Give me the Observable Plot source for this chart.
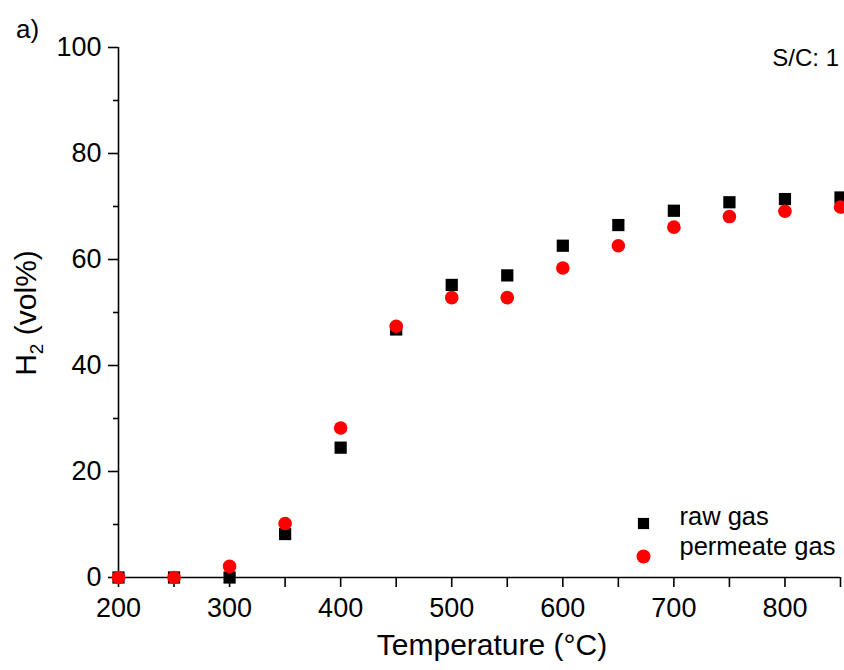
<!DOCTYPE html>
<html>
<head>
<meta charset="utf-8">
<script src="https://cdn.jsdelivr.net/npm/d3@7"></script>
<script src="https://cdn.jsdelivr.net/npm/@observablehq/plot@0.6"></script>
<style>
  html, body { margin: 0; padding: 0; background: #fff; }
  #chart { width: 844px; height: 670px; }
  svg { font-family: "Liberation Sans", Arial, sans-serif; }
</style>
</head>
<body>
<div id="chart"></div>
<script>
const temperatures = [200, 250, 300, 350, 400, 450, 500, 550, 600, 650, 700, 750, 800, 850];
const rawGas =       [0, 0, 0, 8.2, 24.5, 46.8, 55.2, 57.0, 62.6, 66.5, 69.2, 70.8, 71.4, 71.7];
const permeateGas =  [0, 0, 2.1, 10.2, 28.2, 47.4, 52.8, 52.8, 58.4, 62.6, 66.1, 68.1, 69.1, 69.9];

const xMajorTicks = [200, 300, 400, 500, 600, 700, 800];
const xMinorTicks = [250, 350, 450, 550, 650, 750, 850];
const yMajorTicks = [0, 20, 40, 60, 80, 100];
const yMinorTicks = [10, 30, 50, 70, 90];
const seriesNames = ["raw gas", "permeate gas"];

const rawData = temperatures.map((t, i) => ({t, v: rawGas[i]}));
const permData = temperatures.map((t, i) => ({t, v: permeateGas[i]}));

const font = "'Liberation Sans', Arial, sans-serif";

const svg = Plot.plot({
  width: 844,
  height: 670,
  marginLeft: 118,
  marginRight: 4,
  marginTop: 47,
  marginBottom: 93,
  style: {fontFamily: font, background: "white", overflow: "hidden"},
  x: {domain: [200, 850]},
  y: {domain: [0, 100]},
  marks: [
    Plot.axisX({ticks: xMajorTicks, tickSize: 10, tickPadding: 10, fontSize: 27, label: null, strokeWidth: 1.6, color: "black"}),
    Plot.axisX({ticks: xMinorTicks, tickSize: 10, tickFormat: () => "", label: null, strokeWidth: 1.6}),
    Plot.axisY({ticks: yMajorTicks, tickSize: 10, tickPadding: 7, fontSize: 27, label: null, strokeWidth: 1.6, color: "black"}),
    Plot.axisY({ticks: yMinorTicks, tickSize: 5, tickFormat: () => "", label: null, strokeWidth: 1.6}),
    Plot.ruleX([200], {stroke: "black", strokeWidth: 1.6}),
    Plot.ruleY([0], {stroke: "black", strokeWidth: 1.6}),
    Plot.dot(rawData, {x: "t", y: "v", symbol: "square", r: 6.9, fill: "black", stroke: "none"}),
    Plot.dot(permData, {x: "t", y: "v", symbol: "circle", r: 6.8, fill: "#ff0000", stroke: "none"}),
    // legend
    Plot.dot([seriesNames[0]], {frameAnchor: "bottom-right", dx: -197, dy: -54, symbol: "square", r: 6.3, fill: "black", stroke: "none"}),
    Plot.dot([seriesNames[1]], {frameAnchor: "bottom-right", dx: -197, dy: -21, symbol: "circle", r: 7, fill: "#ff0000", stroke: "none"}),
    Plot.text([seriesNames[0]], {text: d => d, frameAnchor: "bottom-right", dx: -161, dy: -53, textAnchor: "start", fontSize: 25.5, fill: "black"}),
    Plot.text([seriesNames[1]], {text: d => d, frameAnchor: "bottom-right", dx: -161, dy: -23, textAnchor: "start", fontSize: 25.5, fill: "black"})
  ]
});

const s = d3.select(svg);
// x label
s.append("text")
  .attr("x", 492).attr("y", 655)
  .attr("text-anchor", "middle")
  .attr("font-size", 30).attr("font-family", font).attr("fill", "black")
  .text("Temperature (°C)");
// y label with subscript
const yl = s.append("text")
  .attr("transform", "translate(36,313) rotate(-90)")
  .attr("text-anchor", "middle")
  .attr("font-size", 30).attr("font-family", font).attr("fill", "black");
yl.append("tspan").text("H");
yl.append("tspan").attr("font-size", 19).attr("dy", 7).text("2");
yl.append("tspan").attr("dy", -7).text(" (vol%)");
// panel letter
s.append("text")
  .attr("x", 16).attr("y", 38)
  .attr("text-anchor", "start")
  .attr("font-size", 26).attr("font-family", font).attr("fill", "black")
  .text("a)");
// annotation
s.append("text")
  .attr("x", 839).attr("y", 66)
  .attr("text-anchor", "end")
  .attr("font-size", 24).attr("font-family", font).attr("fill", "black")
  .text("S/C: 1");

document.getElementById("chart").appendChild(svg);
</script>
</body>
</html>
